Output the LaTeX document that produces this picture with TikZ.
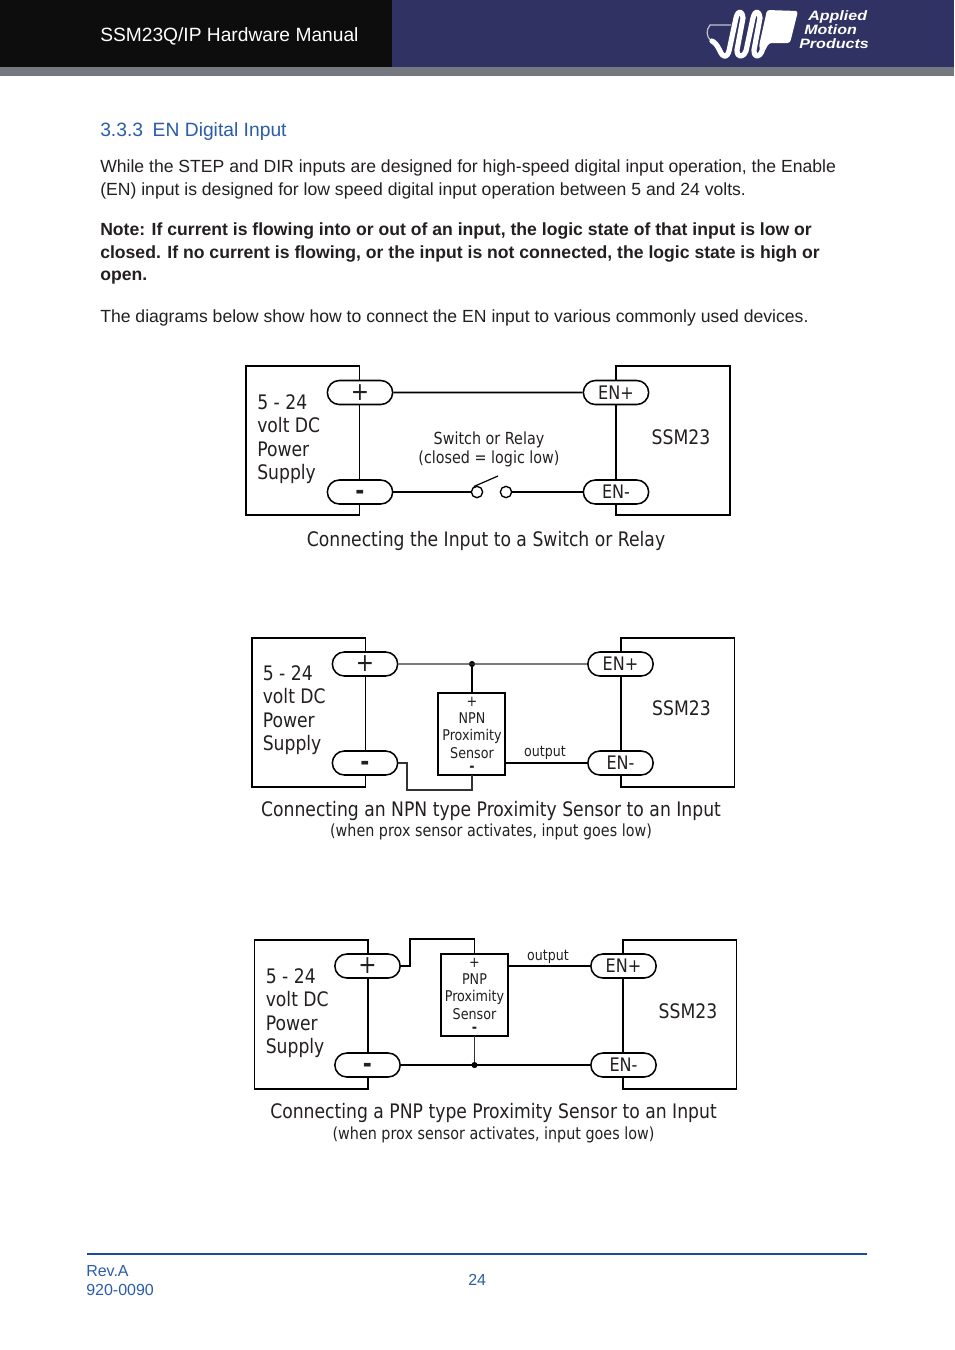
\documentclass[tikz,border=0pt]{standalone}
\usepackage{fontspec}
\setmainfont{Liberation Sans}
\newfontfamily\diafont[FakeStretch=0.86]{DejaVu Sans}
\newfontfamily\logofont[FakeStretch=1.18]{Liberation Sans}
\usetikzlibrary{shapes.misc}
\definecolor{navy}{HTML}{2F3263}
\definecolor{barg}{HTML}{75787F}
\definecolor{headblue}{HTML}{2A5CAA}
\definecolor{rulblue}{HTML}{1D4C9C}
\definecolor{bodyk}{HTML}{231F20}
\newcommand{\pillminus}{\smash{\raisebox{-5.7pt}{\bfseries\fontsize{19pt}{19pt}\selectfont -}}}

\begin{document}
\begin{tikzpicture}[
x=.75pt,y=-.75pt,
page/.style={
    anchor=base west,
    inner sep=0,
    text=bodyk,
    font=\fontsize{13.2pt}{15pt}\selectfont
    },
notetext/.style={
    page,
    font=\bfseries\fontsize{13.2pt}{15pt}\selectfont
    },
foot/.style={
    page,
    text=headblue,
    font=\fontsize{12pt}{14pt}\selectfont
    },
logotext/.style={
    page,
    text=white,
    font=\logofont\bfseries\itshape\fontsize{10.2pt}{10pt}\selectfont
    },
box/.style={
    rectangle,
    draw=black,
    anchor=north west,
    inner sep=0,
    outer sep=0,
    line width=1.15pt,
    minimum width=85.2pt,
    minimum height=111.75pt
    },
pill/.style={
    rounded rectangle,
    draw=black,
    fill=white,
    inner sep=0,
    line width=1.15pt,
    minimum width=49pt,
    minimum height=18pt,
    text=bodyk,
    font=\diafont\fontsize{14pt}{14pt}\selectfont
    },
sensor/.style={
    rectangle,
    draw=black,
    fill=white,
    inner sep=0,
    outer sep=0,
    anchor=north west,
    line width=1pt,
    minimum width=50.25pt,
    minimum height=61.5pt
    },
sensortext/.style={
    align=center,
    inner sep=0,
    text=bodyk,
    font=\diafont\fontsize{11.1pt}{13pt}\selectfont
    },
dialabel/.style={
    inner sep=0,
    text=bodyk,
    font=\diafont\fontsize{15pt}{17.6pt}\selectfont
    },
small/.style={
    inner sep=0,
    align=center,
    text=bodyk,
    font=\diafont\fontsize{12.5pt}{14.25pt}\selectfont
    },
outlabel/.style={
    inner sep=0,
    text=bodyk,
    font=\diafont\fontsize{11pt}{14pt}\selectfont
    },
caption/.style={
    inner sep=0,
    text=bodyk,
    font=\diafont\fontsize{15pt}{17pt}\selectfont
    },
wire/.style={
    draw=black,
    line width=1.15pt
    },
thinwire/.style={
    draw=black!80,
    line width=.8pt
    },
dot/.style={
    circle,
    fill=black,
    inner sep=0,
    minimum size=4.6pt
    },
contact/.style={
    circle,
    draw=black,
    fill=white,
    inner sep=0,
    line width=1pt,
    minimum size=8.5pt
    }
]
\useasboundingbox (0,0) rectangle (954,1350);
% header
\fill[black!95] (0,0) rectangle (392,67);
\fill[navy] (392,0) rectangle (954,67);
\fill[barg] (0,67) rectangle (954,76);
\node(manual) [page,text=white,font=\fontsize{14.4pt}{16pt}\selectfont] at (100,41) {SSM23Q/IP Hardware Manual};
% logo
\draw[white!70!navy,line width=.9pt] (731,25) -- (710,25) .. controls (706,30) and (706,36) .. (711,41);
\draw[white,line width=3.9pt,line cap=round,line join=round]
  (712,41) .. controls (716,43) and (718,47) .. (720,51)
  .. controls (723,58) and (727,58) .. (729,51)
  -- (736,18) .. controls (738,10) and (742,10) .. (743,18)
  -- (737,50) .. controls (737,58) and (743,58) .. (746,51)
  -- (753,18) .. controls (755,10) and (759,10) .. (760,18)
  -- (754,50) .. controls (754,58) and (759,58) .. (762,51)
  -- (769,20);
\fill[white,rounded corners=2pt] (767,10) -- (798,11) -- (790,43) -- (769,43) -- (762,56) -- (759,46) -- cycle;
\node(logoa) [logotext] at (808,20) {Applied};
\node(logob) [logotext] at (804,34) {Motion};
\node(logoc) [logotext] at (799,48) {Products};
% text
\node(heading) [page,text=headblue,font=\fontsize{14.45pt}{16pt}\selectfont] at (100,136) {3.3.3\hspace{.5em}EN Digital Input};
\node(parone) [page] at (100,172) {While the STEP and DIR inputs are designed for high-speed digital input operation, the Enable};
\node(partwo) [page] at (100,195) {(EN) input is designed for low speed digital input operation between 5 and 24 volts.};
\node(noteone) [notetext] at (100,235) {Note: If current is flowing into or out of an input, the logic state of that input is low or};
\node(notetwo) [notetext] at (100,258) {closed. If no current is flowing, or the input is not connected, the logic state is high or};
\node(notethree) [notetext] at (100,280) {open.};
\node(parthree) [page] at (100,322) {The diagrams below show how to connect the EN input to various commonly used devices.};
% switch
\node(supa) [box,line width=1.3pt] at (246,366) {};
\node(ssma) [box,line width=1.3pt,minimum width=85.5pt] at (616,366) {};
\node(pplusa) [pill] at (360,392.5) {\fontsize{19pt}{19pt}\selectfont +};
\node(pminusa) [pill] at (360,492) {\pillminus};
\node(enplusa) [pill] at (616,392.5) {EN+};
\node(enminusa) [pill] at (616,492) {EN-};
\node(conl) [contact] at (477,492) {};
\node(conr) [contact] at (506,492) {};
\coordinate(levera) at (498,476);
\draw[wire,line width=1.3pt] (pplusa) -- (enplusa);
\draw[wire,line width=1.3pt] (pminusa.east) -- (conl);
\draw[wire,line width=1.3pt] (conr) -- (enminusa.west);
\draw[wire,line width=.9pt] (conl.120) -- (levera);
\node(psua) [dialabel,anchor=north west,align=left] at (257,394) {5 - 24\\volt DC\\Power\\Supply};
\node(namea) [dialabel] at (681,437) {SSM23};
\node(swlabel) [small] at (489,449) {Switch or Relay\\(closed = logic low)};
\node(capa) [caption] at (486,541) {Connecting the Input to a Switch or Relay};
% NPN
\node(supb) [box] at (252,638) {};
\node(ssmb) [box] at (621,638) {};
\node(pplusb) [pill] at (365,664) {\fontsize{19pt}{19pt}\selectfont +};
\node(pminusb) [pill] at (365,763) {\pillminus};
\node(enplusb) [pill] at (620.5,664) {EN+};
\node(enminusb) [pill] at (620.5,763) {EN-};
\node(npn) [sensor] at (438,693) {};
\node(npntext) [sensortext] at (472,734) {+\\NPN\\Proximity\\Sensor\\[-3.2pt]\bfseries -};
\node(dotb) [dot] at (472,664) {};
\coordinate(lowl) at (407,790);
\coordinate(lowr) at (472,790);
\draw[thinwire] (pplusb) -- (enplusb);
\draw[wire] (dotb) -- (npn.north -| dotb);
\draw[wire] (npn.east |- enminusb) -- (enminusb.west);
\draw[thinwire] (pminusb.east) -- (lowl |- pminusb) -- (lowl) -- (lowr) -- (npn.south -| lowr);
\node(psub) [dialabel,anchor=north west,align=left] at (262.5,665) {5 - 24\\volt DC\\Power\\Supply};
\node(nameb) [dialabel] at (681.5,708) {SSM23};
\node(outb) [outlabel] at (545,753) {output};
\node(capb) [caption] at (491,811) {Connecting an NPN type Proximity Sensor to an Input};
\node(subb) [small] at (491,831.5) {(when prox sensor activates, input goes low)};
% PNP
\node(supc) [box] at (254.5,940) {};
\node(ssmc) [box] at (623,940) {};
\node(ppluic) [pill] at (367.5,966) {\fontsize{19pt}{19pt}\selectfont +};
\node(pminusc) [pill] at (367.5,1065) {\pillminus};
\node(enplusc) [pill] at (623.5,966) {EN+};
\node(enminusc) [pill] at (623.5,1065) {EN-};
\node(pnp) [sensor,line width=.8pt] at (441,954) {};
\node(pnptext) [sensortext] at (474.5,995) {+\\PNP\\Proximity\\Sensor\\[-3.2pt]\bfseries -};
\node(dotc) [dot] at (474.5,1065) {};
\coordinate(topl) at (410,939);
\coordinate(topr) at (474.5,939);
\draw[wire] (pminusc) -- (enminusc);
\draw[thinwire] (dotc) -- (pnp.south -| dotc);
\draw[wire] (pnp.east |- enplusc) -- (enplusc.west);
\draw[wire] (ppluic.east) -- (topl |- ppluic) -- (topl) -- (topr) -- (pnp.north -| topr);
\node(psuc) [dialabel,anchor=north west,align=left] at (265.5,968) {5 - 24\\volt DC\\Power\\Supply};
\node(namec) [dialabel] at (688,1011) {SSM23};
\node(outc) [outlabel] at (548,957) {output};
\node(capc) [caption] at (493.5,1113) {Connecting a PNP type Proximity Sensor to an Input};
\node(subc) [small] at (493.5,1134.5) {(when prox sensor activates, input goes low)};
% footer
\draw[rulblue,line width=1.3pt] (87,1254) -- (867,1254);
\node(rev) [foot] at (86,1276) {Rev.A};
\node(partno) [foot] at (86,1295) {920-0090};
\node(pageno) [foot] at (468,1285) {24};
\end{tikzpicture}
\end{document}
